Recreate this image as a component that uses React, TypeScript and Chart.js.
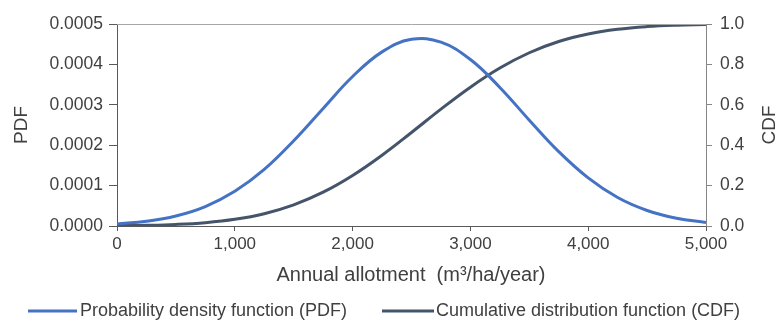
import React, { useEffect, useRef } from "react";
import { Chart, registerables } from "chart.js";

Chart.register(...registerables);

const allotment = [0, 250, 500, 750, 1000, 1250, 1500, 1750, 2000, 2250, 2500, 2750, 3000, 3250, 3500, 3750, 4000, 4250, 4500, 4750, 5000];
const pdfValues = [0.0000052, 0.0000118, 0.0000249, 0.0000482, 0.0000858, 0.00014, 0.000211, 0.000291, 0.00037, 0.000431, 0.000462, 0.000455, 0.000412, 0.000343, 0.000262, 0.000184, 0.000119, 0.0000704, 0.0000384, 0.0000192, 0.0000089];
const cdfValues = [0.00135, 0.00338, 0.00778, 0.01667, 0.0331, 0.0609, 0.1046, 0.1673, 0.2502, 0.3505, 0.463, 0.5785, 0.6872, 0.782, 0.8577, 0.9131, 0.9506, 0.9739, 0.9872, 0.9942, 0.9976];
const pdfLabel = "Probability density function (PDF)";
const cdfLabel = "Cumulative distribution function (CDF)";
const xTitle = "Annual allotment  (m³/ha/year)";
const leftTitle = "PDF";
const rightTitle = "CDF";

const FONT = "'Liberation Sans', Arial, sans-serif";
const TEXT = "#404040";
const PDF_COLOR = "#4472C4";
const CDF_COLOR = "#44546A";

const decorPlugin = {
  id: "decor",
  afterDraw(chart: any) {
    const { ctx, chartArea } = chart;
    ctx.save();
    ctx.strokeStyle = "#a6a6a6";
    ctx.lineWidth = 1;
    ctx.beginPath();
    ctx.moveTo(chartArea.left, chartArea.top + 0.5);
    ctx.lineTo(chartArea.right, chartArea.top + 0.5);
    ctx.stroke();

    ctx.fillStyle = TEXT;
    ctx.textBaseline = "middle";
    ctx.textAlign = "center";
    ctx.font = `20px ${FONT}`;
    ctx.fillText(xTitle, 411, 275);
    ctx.font = `19px ${FONT}`;
    ctx.save();
    ctx.translate(22, 125);
    ctx.rotate(-Math.PI / 2);
    ctx.fillText(leftTitle, 0, 0);
    ctx.restore();
    ctx.save();
    ctx.translate(770, 125);
    ctx.rotate(-Math.PI / 2);
    ctx.fillText(rightTitle, 0, 0);
    ctx.restore();

    ctx.font = `18px ${FONT}`;
    ctx.textAlign = "left";
    ctx.lineWidth = 3;
    ctx.strokeStyle = PDF_COLOR;
    ctx.beginPath();
    ctx.moveTo(28, 311);
    ctx.lineTo(77, 311);
    ctx.stroke();
    ctx.fillText(pdfLabel, 80, 311);
    ctx.strokeStyle = CDF_COLOR;
    ctx.beginPath();
    ctx.moveTo(382, 311);
    ctx.lineTo(434, 311);
    ctx.stroke();
    ctx.fillText(cdfLabel, 436, 311);
    ctx.restore();
  },
};

export default function App() {
  const ref = useRef<HTMLCanvasElement>(null);
  useEffect(() => {
    document.body.style.margin = "0";
    const pdfData = allotment.map((x, i) => ({ x, y: pdfValues[i] }));
    const cdfData = allotment.map((x, i) => ({ x, y: cdfValues[i] }));
    const chart = new Chart(ref.current!, {
      type: "line",
      data: {
        datasets: [
          { label: pdfLabel, data: pdfData, yAxisID: "y", borderColor: PDF_COLOR, backgroundColor: PDF_COLOR, borderWidth: 3, pointRadius: 0, tension: 0.4, fill: false },
          { label: cdfLabel, data: cdfData, yAxisID: "y1", borderColor: CDF_COLOR, backgroundColor: CDF_COLOR, borderWidth: 3, pointRadius: 0, tension: 0.4, fill: false },
        ],
      },
      options: {
        animation: false,
        responsive: false,
        layout: { padding: { top: 24, left: 0, right: 0, bottom: 0 } },
        plugins: { legend: { display: false }, tooltip: { enabled: false } },
        scales: {
          x: {
            type: "linear",
            min: 0,
            max: 5000,
            ticks: { stepSize: 1000, color: TEXT, font: { family: FONT, size: 17 }, padding: 3, maxRotation: 0, callback: (v: any) => Number(v).toLocaleString("en-US") },
            grid: { drawOnChartArea: false, drawTicks: true, tickLength: 5, color: "#595959" },
            border: { color: "#595959" },
            afterFit: (s: any) => { s.height = 96; },
          },
          y: {
            type: "linear",
            position: "left",
            min: 0,
            max: 0.0005,
            ticks: { stepSize: 0.0001, color: TEXT, font: { family: FONT, size: 17.5 }, padding: 6, callback: (v: any) => Number(v).toFixed(4) },
            grid: { drawOnChartArea: false, drawTicks: true, tickLength: 8, color: "#595959" },
            border: { color: "#595959" },
            afterFit: (s: any) => { s.width = 117; },
          },
          y1: {
            type: "linear",
            position: "right",
            min: 0,
            max: 1,
            ticks: { stepSize: 0.2, color: TEXT, font: { family: FONT, size: 17.5 }, padding: 8, callback: (v: any) => Number(v).toFixed(1) },
            grid: { drawOnChartArea: false, drawTicks: true, tickLength: 6, color: "#868686" },
            border: { color: "#868686" },
            afterFit: (s: any) => { s.width = 78; },
          },
        },
      },
      plugins: [decorPlugin],
    });
    return () => chart.destroy();
  }, []);
  return <canvas ref={ref} width={784} height={322} style={{ display: "block" }} />;
}
